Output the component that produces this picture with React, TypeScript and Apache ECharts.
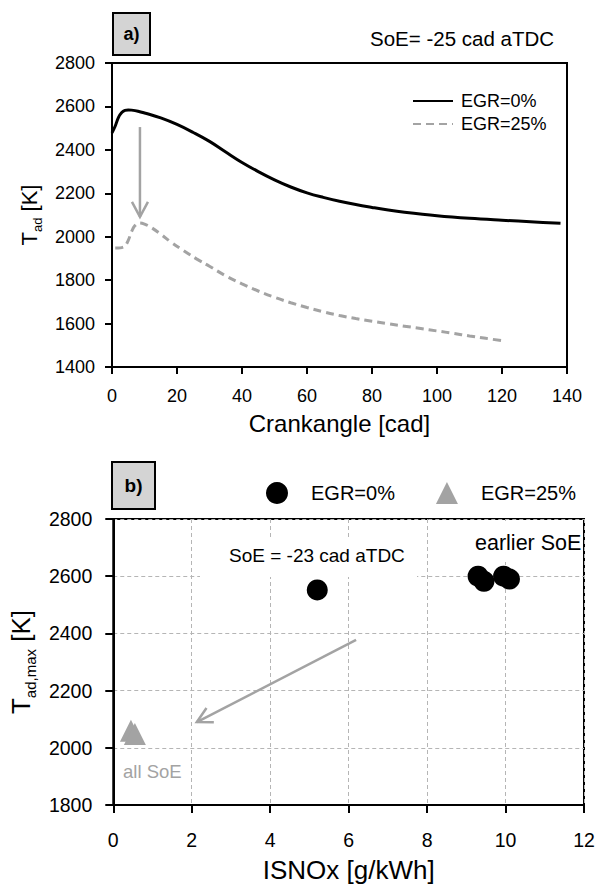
import React, { useEffect, useRef } from "react";
import * as echarts from "echarts";

// ---- Panel a) : adiabatic flame temperature vs crank angle ----
const crankEgr0 = [0, 1, 2, 3, 4, 5, 6, 8, 10, 15, 20, 25, 30, 35, 40, 45, 50, 55, 60, 65, 70, 75, 80, 85, 90, 100, 110, 120, 130, 138];
const tadEgr0 = [2478, 2510, 2550, 2572, 2582, 2584, 2583, 2578, 2570, 2547, 2517, 2480, 2439, 2390, 2342, 2300, 2262, 2229, 2202, 2181, 2163, 2148, 2135, 2123, 2113, 2097, 2085, 2076, 2068, 2062];
const crankEgr25 = [1, 2, 3, 4, 5, 6, 7, 8.5, 10, 12, 15, 18, 22, 26, 30, 35, 40, 45, 50, 55, 60, 65, 70, 75, 80, 85, 90, 95, 100, 105, 110, 115, 121];
const tadEgr25 = [1948, 1948, 1950, 1957, 1983, 2022, 2050, 2063, 2058, 2043, 2012, 1977, 1936, 1898, 1864, 1820, 1783, 1750, 1721, 1696, 1674, 1654, 1637, 1623, 1611, 1599, 1588, 1577, 1566, 1555, 1543, 1532, 1519];

// ---- Panel b) : peak Tad vs ISNOx ----
const isnoxEgr0 = [5.2, 9.3, 9.45, 9.95, 10.1];
const tmaxEgr0 = [2552, 2600, 2582, 2600, 2590];
const isnoxEgr25 = [0.45, 0.55];
const tmaxEgr25 = [2060, 2048];

const xTicksA = { min: 0, max: 140, interval: 20 };
const yTicksA = { min: 1400, max: 2800, interval: 200 };
const xTicksB = { min: 0, max: 12, interval: 2 };
const yTicksB = { min: 1800, max: 2800, interval: 200 };

const FONT = "Liberation Sans, Arial, Helvetica, sans-serif";
const GRAY = "#a3a3a3";

const zip = (xs: number[], ys: number[]) => xs.map((x, i) => [x, ys[i]]);

export default function App() {
  const ref = useRef<HTMLDivElement>(null);

  useEffect(() => {
    if (!ref.current) return;
    const chart = echarts.init(ref.current, undefined, { renderer: "svg" });

    const axisCommon = (fs: number, margin: number, tickLen: number) => ({
      type: "value" as const,
      axisLine: { show: true, lineStyle: { color: "#000", width: 2 } },
      axisTick: { show: true, inside: false, length: tickLen, lineStyle: { color: "#000", width: 2 } },
      axisLabel: { color: "#000", fontSize: fs, fontFamily: FONT, margin, formatter: (v: number) => String(v) },
    });

    const option: any = {
      animation: false,
      backgroundColor: "#fff",
      textStyle: { fontFamily: FONT },
      grid: [
        { left: 112, top: 63, width: 455, height: 304, show: true, borderColor: "#000", borderWidth: 2, backgroundColor: "transparent" },
        { left: 111, top: 519, width: 473, height: 286, show: true, borderColor: "#000", borderWidth: 2, backgroundColor: "transparent" },
      ],
      xAxis: [
        {
          ...axisCommon(18, 20, 7),
          gridIndex: 0,
          ...xTicksA,
          splitLine: { show: false },
          name: "Crankangle [cad]",
          nameLocation: "middle",
          nameGap: 44,
          nameTextStyle: { color: "#000", fontSize: 24, fontFamily: FONT },
        },
        {
          ...axisCommon(19.5, 25, 8),
          gridIndex: 1,
          ...xTicksB,
          splitLine: { show: true, lineStyle: { color: "#b5b5b5", type: [4, 3], width: 1 } },
          name: "ISNOx [g/kWh]",
          nameLocation: "middle",
          nameGap: 52,
          nameTextStyle: { color: "#000", fontSize: 26, fontFamily: FONT },
        },
      ],
      yAxis: [
        {
          ...axisCommon(18, 17, 7),
          gridIndex: 0,
          ...yTicksA,
          splitLine: { show: false },
          name: "{t|T}{s|ad}{t| [K]}",
          nameLocation: "middle",
          nameRotate: 90,
          nameGap: 49,
          nameTextStyle: {
            color: "#000",
            rich: {
              t: { fontSize: 22, fontFamily: FONT, color: "#000", lineHeight: 30 },
              s: { fontSize: 13, fontFamily: FONT, color: "#000", verticalAlign: "bottom", lineHeight: 13 },
            },
          },
        },
        {
          ...axisCommon(19.5, 21, 8),
          gridIndex: 1,
          ...yTicksB,
          splitLine: { show: true, lineStyle: { color: "#b5b5b5", type: [4, 3], width: 1 } },
          name: "{t|T}{s|ad,max}{t| [K]}",
          nameLocation: "middle",
          nameRotate: 90,
          nameGap: 67,
          nameTextStyle: {
            color: "#000",
            rich: {
              t: { fontSize: 26, fontFamily: FONT, color: "#000", lineHeight: 34 },
              s: { fontSize: 15, fontFamily: FONT, color: "#000", verticalAlign: "bottom", lineHeight: 15 },
            },
          },
        },
      ],
      legend: [
        {
          data: ["EGR=0%", "EGR=25%"],
          orient: "vertical",
          left: 407,
          top: 87,
          itemWidth: 40,
          itemHeight: 14,
          itemGap: 5,
          itemStyle: { opacity: 0 },
          textStyle: { fontSize: 18, fontFamily: FONT, color: "#000", padding: [0, 0, 0, 3] },
        },
        {
          data: ["b0", "b25"],
          orient: "horizontal",
          left: 261,
          top: 477,
          itemWidth: 22,
          itemHeight: 22,
          itemGap: 41,
          formatter: (n: string) => (n === "b0" ? "EGR=0%" : "EGR=25%"),
          textStyle: { fontSize: 20, fontFamily: FONT, color: "#000", padding: [0, 0, 0, 18] },
        },
      ],
      series: [
        {
          name: "EGR=0%",
          type: "line",
          xAxisIndex: 0,
          yAxisIndex: 0,
          data: zip(crankEgr0, tadEgr0),
          smooth: 0.4,
          symbol: "none",
          lineStyle: { color: "#000", width: 3 },
          itemStyle: { color: "#000" },
          z: 5,
        },
        {
          name: "EGR=25%",
          type: "line",
          xAxisIndex: 0,
          yAxisIndex: 0,
          data: zip(crankEgr25, tadEgr25),
          smooth: 0.4,
          symbol: "none",
          lineStyle: { color: GRAY, width: 3, type: [8, 5] },
          itemStyle: { color: GRAY },
          z: 5,
        },
        {
          name: "b0",
          type: "scatter",
          xAxisIndex: 1,
          yAxisIndex: 1,
          data: zip(isnoxEgr0, tmaxEgr0),
          symbol: "circle",
          symbolSize: 21,
          itemStyle: { color: "#000", opacity: 1 },
          z: 20,
        },
        {
          name: "b25",
          type: "scatter",
          xAxisIndex: 1,
          yAxisIndex: 1,
          data: zip(isnoxEgr25, tmaxEgr25),
          symbol: "triangle",
          symbolSize: 22,
          itemStyle: { color: GRAY, opacity: 1 },
          z: 20,
        },
      ],
    };

    chart.setOption(option);

    // Arrows (anchored in data coordinates)
    const arrow = (grid: number, from: number[], to: number[]) => {
      const a = chart.convertToPixel({ gridIndex: grid }, from) as number[];
      const b = chart.convertToPixel({ gridIndex: grid }, to) as number[];
      const dx = b[0] - a[0];
      const dy = b[1] - a[1];
      const len = Math.hypot(dx, dy) || 1;
      const ux = dx / len, uy = dy / len;
      const nx = -uy, ny = ux;
      const L = 15, W = 8;
      const left = [b[0] - L * ux + W * nx, b[1] - L * uy + W * ny];
      const right = [b[0] - L * ux - W * nx, b[1] - L * uy - W * ny];
      const style = { stroke: GRAY, lineWidth: 2.5, fill: "none" };
      return [
        { type: "line", shape: { x1: a[0], y1: a[1], x2: b[0], y2: b[1] }, style, z: 30 },
        { type: "polyline", shape: { points: [left, b, right] }, style, z: 30 },
      ];
    };

    const graphic: any[] = [
      // panel labels
      { type: "rect", shape: { x: 113, y: 13, width: 37, height: 42 }, style: { fill: "#d4d4d4", stroke: "#000", lineWidth: 2 }, z: 30 },
      { type: "text", style: { x: 131.5, y: 34, text: "a)", font: `bold 18px ${FONT}`, fill: "#000", align: "center", verticalAlign: "middle" }, z: 31 },
      { type: "rect", shape: { x: 112, y: 462, width: 43, height: 47 }, style: { fill: "#d4d4d4", stroke: "#000", lineWidth: 2 }, z: 30 },
      { type: "text", style: { x: 133.5, y: 485, text: "b)", font: `bold 19px ${FONT}`, fill: "#000", align: "center", verticalAlign: "middle" }, z: 31 },
      // annotations
      { type: "text", style: { x: 370, y: 38, text: "SoE= -25 cad aTDC", font: `20.5px ${FONT}`, fill: "#000", verticalAlign: "middle" }, z: 31 },
      { type: "rect", shape: { x: 200, y: 540, width: 217, height: 37 }, style: { fill: "#fff" }, z: 8 },
      { type: "text", style: { x: 229, y: 555, text: "SoE = -23 cad aTDC", font: `19px ${FONT}`, fill: "#000", verticalAlign: "middle" }, z: 31 },
      { type: "rect", shape: { x: 466, y: 521, width: 116, height: 41 }, style: { fill: "#fff" }, z: 8 },
      { type: "text", style: { x: 475, y: 543, text: "earlier SoE", font: `21.5px ${FONT}`, fill: "#000", verticalAlign: "middle" }, z: 31 },
      { type: "text", style: { x: 123, y: 771, text: "all SoE", font: `18.5px ${FONT}`, fill: GRAY, verticalAlign: "middle" }, z: 31 },
      ...arrow(0, [8.6, 2505], [8.6, 2091]),
      ...arrow(1, [6.19, 2377], [2.13, 2090]),
    ];

    chart.setOption({ graphic });

    return () => chart.dispose();
  }, []);

  return <div ref={ref} style={{ position: "fixed", left: 0, top: 0, width: 598, height: 884 }} />;
}
